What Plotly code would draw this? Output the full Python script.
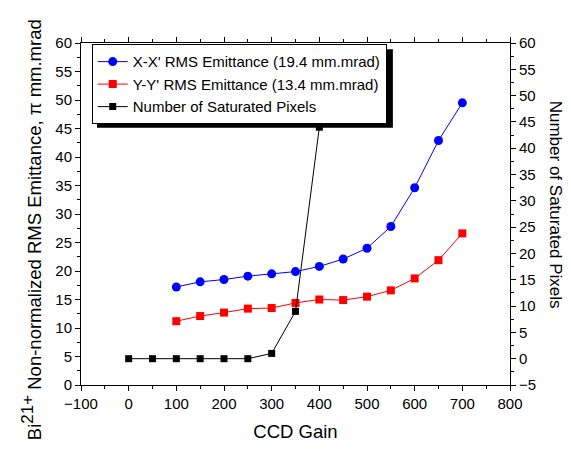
import plotly.graph_objects as go

gain_xy = [100, 150, 200, 250, 300, 350, 400, 450, 500, 550, 600, 650, 700]
emit_x = [17.2, 18.1, 18.5, 19.1, 19.5, 19.9, 20.8, 22.1, 24.0, 27.8, 34.6, 42.9, 49.5]
emit_y = [11.2, 12.1, 12.7, 13.4, 13.5, 14.4, 15.0, 14.9, 15.5, 16.6, 18.7, 21.9, 26.6]
gain_sat = [0, 50, 100, 150, 200, 250, 300, 350, 400]
sat_pixels = [0, 0, 0, 0, 0, 0, 1, 9, 44]

FONT = "Liberation Sans, Arial, sans-serif"

fig = go.Figure()
fig.add_trace(go.Scatter(x=gain_xy, y=emit_x, mode="lines+markers",
                         name="X-X' RMS Emittance (19.4 mm.mrad)",
                         line=dict(color="#0000ff", width=1),
                         marker=dict(symbol="circle", size=9, color="#0000ff")))
fig.add_trace(go.Scatter(x=gain_xy, y=emit_y, mode="lines+markers",
                         name="Y-Y' RMS Emittance (13.4 mm.mrad)",
                         line=dict(color="#ff0000", width=1),
                         marker=dict(symbol="square", size=8, color="#ff0000")))
fig.add_trace(go.Scatter(x=gain_sat, y=sat_pixels, mode="lines+markers",
                         name="Number of Saturated Pixels", yaxis="y2",
                         line=dict(color="#000000", width=1),
                         marker=dict(symbol="square", size=7, color="#000000")))

tickfont = dict(family=FONT, size=15, color="black")
fig.update_layout(
    width=563, height=443,
    margin=dict(l=73, r=61, t=35, b=64),
    paper_bgcolor="white", plot_bgcolor="white",
    font=dict(family=FONT, color="black"),
    showlegend=True,
    legend=dict(x=0.025, y=0.996, xanchor="left", yanchor="top",
                bgcolor="white", bordercolor="black", borderwidth=1,
                font=dict(family=FONT, size=15, color="black"),
                tracegroupgap=0, itemwidth=30),
    xaxis=dict(range=[-100, 800], tickvals=list(range(-100, 801, 100)),
               showline=True, linecolor="black", linewidth=1, mirror="ticks",
               ticks="outside", ticklen=5, tickcolor="black", showgrid=False, zeroline=False,
               minor=dict(tickvals=list(range(-50, 800, 100)), ticks="outside", ticklen=3, tickcolor="black"),
               tickfont=tickfont,
               title=dict(text="CCD Gain", font=dict(family=FONT, size=18.5, color="black"), standoff=14)),
    yaxis=dict(range=[0, 60], tickvals=list(range(0, 61, 5)),
               showline=True, linecolor="black", linewidth=1,
               ticks="outside", ticklen=5, tickcolor="black", showgrid=False, zeroline=False,
               minor=dict(tickvals=[i + 2.5 for i in range(0, 60, 5)], ticks="outside", ticklen=3, tickcolor="black"),
               tickfont=tickfont),
    yaxis2=dict(range=[-5, 60], tickvals=list(range(-5, 61, 5)), overlaying="y", side="right",
                showline=True, linecolor="black", linewidth=1,
                ticks="outside", ticklen=5, tickcolor="black", showgrid=False, zeroline=False,
                minor=dict(tickvals=[i + 2.5 for i in range(-5, 60, 5)], ticks="outside", ticklen=3, tickcolor="black"),
                tickfont=tickfont),
)

# axis titles as rotated annotations for precise placement
fig.add_annotation(text="Bi<sup><span style='font-size:17px'>21+</span></sup> Non-normalized RMS Emittance, π mm.mrad",
                   xref="paper", yref="paper", x=-0.1166, y=0.4555,
                   xanchor="center", yanchor="middle", textangle=-90, showarrow=False,
                   font=dict(family=FONT, size=18.5, color="black"))
fig.add_annotation(text="Number of Saturated Pixels",
                   xref="paper", yref="paper", x=1.105, y=0.527,
                   xanchor="center", yanchor="middle", textangle=90, showarrow=False,
                   font=dict(family=FONT, size=17, color="black"))

# legend drop shadow
fig.add_shape(type="rect", xref="paper", yref="paper",
              x0=0.0373, x1=0.727, y0=0.752, y1=0.982,
              fillcolor="black", line=dict(width=0), layer="between")

fig.write_html("out.html")
